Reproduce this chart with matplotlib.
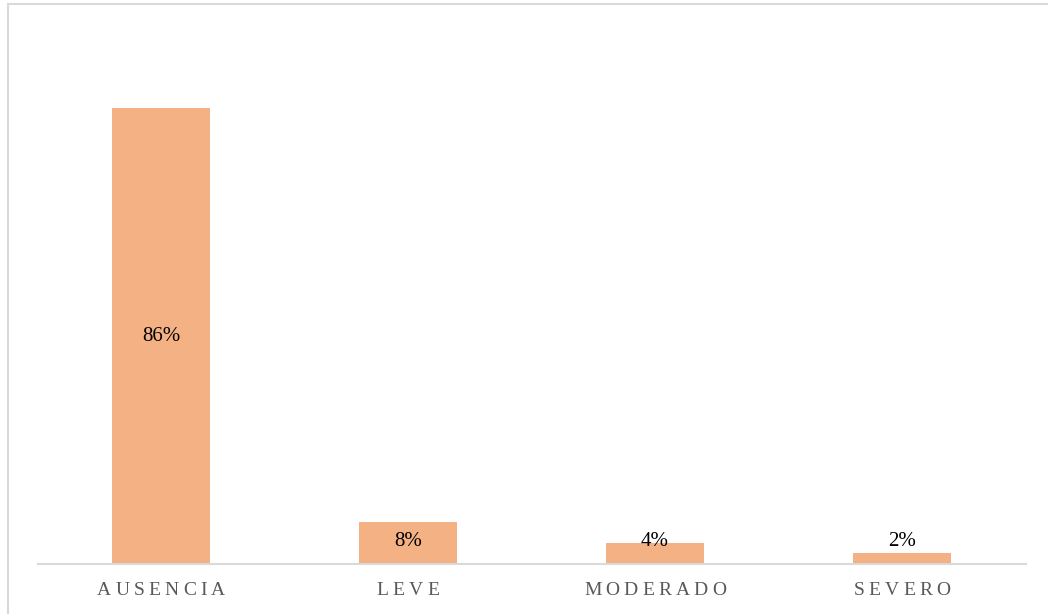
import matplotlib
matplotlib.use("Agg")
import matplotlib.pyplot as plt
from matplotlib.patches import Rectangle

categories = ["AUSENCIA", "LEVE", "MODERADO", "SEVERO"]
values = [86, 8, 4, 2]
value_labels = ["86%", "8%", "4%", "2%"]

BAR_COLOR = "#F4B183"
GRID_GRAY = "#D9D9D9"
TEXT_GRAY = "#595959"
SERIF = ["Liberation Serif", "DejaVu Serif"]

fig = plt.figure(figsize=(10.48, 6.14), dpi=100)
# outer chart frame (cut off on the right and bottom, as in the source)
fig.patches.append(Rectangle((8 / 1048, -0.1), 1.2, (614 - 4) / 614 + 0.1,
                             transform=fig.transFigure, fill=False,
                             edgecolor=GRID_GRAY, linewidth=1.5))

ax = fig.add_axes([37.5 / 1048, 50 / 614, 988 / 1048, 530 / 614])
x = list(range(len(categories)))
ax.bar(x, values, width=0.4, color=BAR_COLOR, zorder=2)
ax.set_xlim(-0.5, len(categories) - 0.5)
ax.set_ylim(0, 100)

for s in ["top", "right", "left"]:
    ax.spines[s].set_visible(False)
ax.spines["bottom"].set_color(GRID_GRAY)
ax.spines["bottom"].set_linewidth(1.5)
ax.set_yticks([])
ax.set_xticks([])

# data labels: centred in the bar, but not lower than a small minimum
for xi, v, lab in zip(x, values, value_labels):
    ax.text(xi, max(v / 2, 4.3), lab, ha="center", va="center",
            fontsize=15, family=SERIF, color="black", zorder=3)

# letter-spaced category labels
renderer = fig.canvas.get_renderer()
track = 3.0  # points between letters
for xi, name in zip(x, categories):
    widths = []
    for ch in name:
        t = ax.text(0, 0, ch, fontsize=14, family=SERIF)
        widths.append(t.get_window_extent(renderer).width * 72 / fig.dpi)
        t.remove()
    total = sum(widths) + track * (len(name) - 1)
    dx = -total / 2
    for ch, w in zip(name, widths):
        ax.annotate(ch, xy=(xi, 0), xycoords=("data", "axes fraction"),
                    xytext=(dx, -13), textcoords="offset points",
                    ha="left", va="top", fontsize=14, family=SERIF,
                    color=TEXT_GRAY)
        dx += w + track

fig.savefig("out.png", dpi=100)
